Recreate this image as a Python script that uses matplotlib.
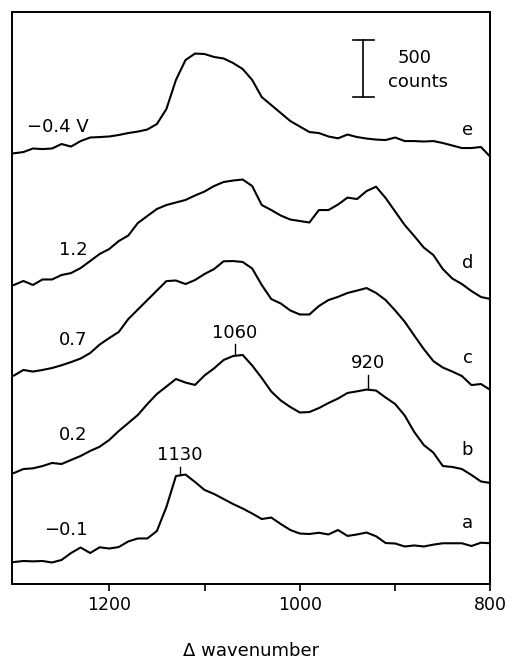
import numpy as np
import matplotlib
matplotlib.use('Agg')
import matplotlib.pyplot as plt

# wavenumber grid (cm^-1), 1300 -> 800 in steps of 10
wavenumber = np.arange(1300, 799, -10)

# spectra in counts, each relative to its own baseline
spec_a = [-8, 1, -2, 1, -12, 10, 71, 119, 71, 121, 110, 123, 172, 198, 198, 263, 473, 744, 757, 692,
          622, 587, 543, 499, 460, 416, 368, 381, 324, 272, 241, 237, 248, 233, 272, 220, 233, 250, 217, 158,
          154, 128, 137, 128, 144, 156, 156, 156, 132, 161, 156]
spec_b = [20, 55, 61, 81, 108, 99, 134, 169, 213, 250, 309, 387, 457, 527, 623, 711, 776, 842, 811, 790,
          873, 935, 1008, 1043, 1052, 960, 851, 733, 654, 597, 549, 553, 588, 632, 671, 720, 734, 750, 741, 680,
          623, 523, 379, 265, 199, 81, 73, 55, 3, -54, -67]
spec_c = [22, 71, 57, 71, 88, 112, 140, 171, 219, 293, 350, 403, 516, 599, 682, 765, 848, 853, 822, 857,
          910, 953, 1021, 1023, 1015, 958, 814, 691, 652, 591, 556, 556, 630, 682, 710, 744, 765, 787, 744, 682,
          591, 493, 372, 254, 149, 92, 57, 18, -61, -52, -104]
spec_d = [14, 49, 14, 62, 62, 101, 118, 162, 223, 285, 328, 398, 446, 555, 617, 678, 713, 735, 757, 796,
          831, 879, 914, 927, 936, 879, 713, 669, 621, 586, 573, 560, 669, 669, 717, 778, 765, 835, 873, 774,
          656, 538, 442, 341, 276, 153, 70, 22, -39, -91, -109]
spec_e = [15, 26, 57, 52, 57, 96, 74, 122, 153, 157, 162, 175, 192, 205, 223, 271, 402, 656, 830, 887,
          883, 857, 844, 804, 752, 656, 507, 437, 367, 297, 249, 201, 192, 162, 146, 179, 157, 144, 135, 131,
          153, 122, 122, 118, 122, 105, 83, 61, 61, 70, -17]

spectra = [spec_a, spec_b, spec_c, spec_d, spec_e]
offsets = [200, 950, 1800, 2600, 3750]
potentials = ['\u22120.1', '0.2', '0.7', '1.2', '\u22120.4 V']
letters = ['a', 'b', 'c', 'd', 'e']

# peak markers: (curve index, position, label)
peaks = [(0, 1126, '1130'), (1, 1068, '1060'), (1, 928, '920')]
marker_len = [75, 100, 130]

plt.rcParams.update({
    'font.family': 'DejaVu Sans',
    'font.size': 13,
    'axes.linewidth': 1.4,
})

fig = plt.figure(figsize=(5.12, 6.61), dpi=100)
ax = fig.add_axes([0.0234, 0.1165, 0.9346, 0.8653])

for s, off in zip(spectra, offsets):
    ax.plot(wavenumber, np.array(s) + off, color='black', lw=1.5)

# potential labels on the left, letters on the right
pot_y = [472, 1302, 2133, 2919, 3997]
for i, (lab, y) in enumerate(zip(potentials, pot_y)):
    if i == 4:
        ax.text(1286, y, lab, ha='left', va='center', fontsize=13)
    else:
        ax.text(1223, y, lab, ha='right', va='center', fontsize=13)

let_y = [531, 1171, 1973, 2803, 3968]
for lab, y in zip(letters, let_y):
    ax.text(824, y, lab, ha='center', va='center', fontsize=13)

# peak markers
for (ci, pos, lab), ln in zip(peaks, marker_len):
    base = np.interp(pos, wavenumber[::-1], (np.array(spectra[ci]) + offsets[ci])[::-1])
    ax.plot([pos, pos], [base + 5, base + ln], color='black', lw=1.0)
    ax.text(pos, base + ln + 25, lab, ha='center', va='bottom', fontsize=13)

# 500 counts scale bar
sb_x, sb_y0, sb_len = 933.5, 4257, 500
ax.plot([sb_x, sb_x], [sb_y0, sb_y0 + sb_len], color='black', lw=1.2)
ax.plot([sb_x - 11, sb_x + 11], [sb_y0, sb_y0], color='black', lw=1.2)
ax.plot([sb_x - 11, sb_x + 11], [sb_y0 + sb_len, sb_y0 + sb_len], color='black', lw=1.2)
ax.text(879.5, 4595, '500', ha='center', va='center', fontsize=13)
ax.text(876, 4391, 'counts', ha='center', va='center', fontsize=13)

ax.set_xlim(1302, 800)
ax.set_ylim(0, 5000)
ax.set_yticks([])
ax.set_xticks([1200, 1000, 800])
ax.set_xticks([1100, 900], minor=True)
ax.tick_params(axis='x', which='both', direction='out', length=5, width=1.2, labelsize=12.5, pad=4)
ax.set_xlabel('\u0394 wavenumber', fontsize=13, labelpad=20)

fig.savefig('out.png', dpi=100)
